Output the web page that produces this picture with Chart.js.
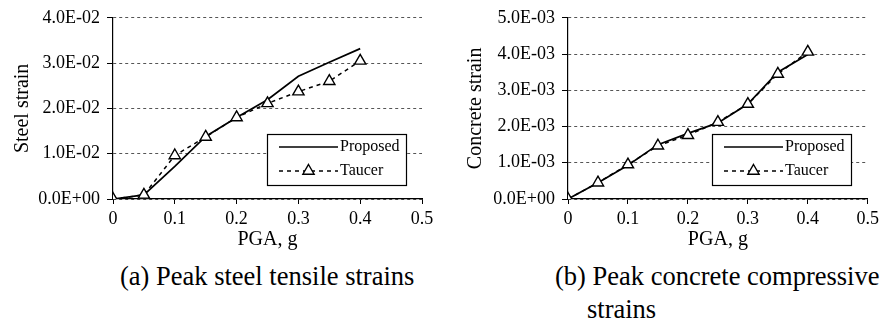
<!DOCTYPE html>
<html>
<head>
<meta charset="utf-8">
<script src="https://cdn.jsdelivr.net/npm/chart.js@4.4.0/dist/chart.umd.min.js"></script>
<style>
  html, body { margin: 0; padding: 0; background: #fff; }
  #fig { position: relative; width: 883px; height: 324px; overflow: hidden;
         font-family: "Liberation Serif", "Times New Roman", serif; color: #000; }
  .panel { position: absolute; top: 0; height: 258px; }
  .cap { position: absolute; font-size: 26.5px; line-height: 32px; white-space: nowrap; }
</style>
</head>
<body>
<div id="fig">
  <div class="panel" style="left:0;width:440px"><canvas id="chart-steel"></canvas></div>
  <div class="panel" style="left:440px;width:443px"><canvas id="chart-concrete"></canvas></div>
  <div class="cap" style="left:120px;top:260px">(a) Peak steel tensile strains</div>
  <div class="cap" style="left:555px;top:260px">(b) Peak concrete compressive</div>
  <div class="cap" style="left:587px;top:293px">strains</div>
</div>
<script>
// ==================== DATOS ====================

const PGA = [0, 0.05, 0.1, 0.15, 0.2, 0.25, 0.3, 0.35, 0.4];

const STEEL_PROPOSED = [0, 0.0009, 0.0072, 0.0138, 0.0180, 0.0219, 0.0271, 0.0302, 0.0332];
const STEEL_TAUCER   = [0, 0.0009, 0.0096, 0.0137, 0.0180, 0.0211, 0.0237, 0.0260, 0.0305];

const CONCRETE_PROPOSED = [0, 0.00045, 0.00093, 0.00150, 0.00181, 0.00210, 0.00262, 0.00350, 0.00399];
const CONCRETE_TAUCER   = [0, 0.00045, 0.00095, 0.00147, 0.00176, 0.00212, 0.00262, 0.00345, 0.00406];

const SERIES_LABELS = ['Proposed', 'Taucer'];
const X_TICKS = ['0', '0.1', '0.2', '0.3', '0.4', '0.5'];
const STEEL_TICKS = ['0.0E+00', '1.0E-02', '2.0E-02', '3.0E-02', '4.0E-02'];
const CONCRETE_TICKS = ['0.0E+00', '1.0E-03', '2.0E-03', '3.0E-03', '4.0E-03', '5.0E-03'];

const FONT = '"Liberation Serif", "Times New Roman", serif';

// ==================== LEYENDA EN RECUADRO ====================

function drawTriangle(ctx, x, y, r) {
  ctx.beginPath();
  ctx.moveTo(x, y - r);
  ctx.lineTo(x + r * 0.866, y + r * 0.5);
  ctx.lineTo(x - r * 0.866, y + r * 0.5);
  ctx.closePath();
  ctx.fillStyle = '#fff';
  ctx.fill();
  ctx.stroke();
}

const legendBox = {
  id: 'legendBox',
  afterDraw(chart, args, opts) {
    const { ctx, chartArea } = chart;
    const w = 139, h = 51;
    const x = Math.round(chartArea.right - opts.right - w);
    const y = Math.round(chartArea.bottom - opts.bottom - h);
    ctx.save();
    ctx.fillStyle = '#fff';
    ctx.fillRect(x, y, w, h);
    ctx.strokeStyle = '#000';
    ctx.lineWidth = 1.2;
    ctx.strokeRect(x + 0.5, y + 0.5, w, h);

    chart.data.datasets.forEach((ds, i) => {
      const ly = y + 13 + i * 24;
      const x1 = x + 12, x2 = x + 71;
      ctx.strokeStyle = '#000';
      ctx.lineWidth = ds.borderWidth;
      ctx.setLineDash(ds.borderDash || []);
      ctx.beginPath();
      ctx.moveTo(x1, ly);
      ctx.lineTo(x2, ly);
      ctx.stroke();
      ctx.setLineDash([]);
      if (ds.pointRadius > 0) {
        ctx.lineWidth = ds.pointBorderWidth;
        drawTriangle(ctx, (x1 + x2) / 2, ly, ds.pointRadius);
      }
      ctx.fillStyle = '#000';
      ctx.font = '16px ' + FONT;
      ctx.textAlign = 'left';
      ctx.textBaseline = 'middle';
      ctx.fillText(ds.label, x + 73, ly);
    });
    ctx.restore();
  }
};

// ==================== GRÁFICOS ====================

function crearGrafico(canvasId, proposed, taucer, yMax, yStep, yTicks, yTitle, cfg) {
  const ctx = document.getElementById(canvasId).getContext('2d');
  return new Chart(ctx, {
    type: 'line',
    data: {
      datasets: [
        {
          label: SERIES_LABELS[0],
          data: PGA.map((x, i) => ({ x: x, y: proposed[i] })),
          borderColor: '#000',
          borderWidth: 1.7,
          pointRadius: 0,
          tension: 0,
          order: 1
        },
        {
          label: SERIES_LABELS[1],
          data: PGA.map((x, i) => ({ x: x, y: taucer[i] })),
          borderColor: '#000',
          borderWidth: 1.5,
          borderDash: [4, 4],
          pointStyle: 'triangle',
          pointRadius: 6.5,
          pointBorderWidth: 1.4,
          pointBackgroundColor: '#fff',
          pointBorderColor: '#000',
          tension: 0,
          order: 0
        }
      ]
    },
    options: {
      responsive: true,
      maintainAspectRatio: false,
      animation: false,
      layout: { padding: cfg.padding },
      plugins: {
        legend: { display: false },
        tooltip: { enabled: false },
        legendBox: { right: cfg.legendRight, bottom: 14 }
      },
      scales: {
        x: {
          type: 'linear',
          min: 0,
          max: 0.5,
          ticks: {
            stepSize: 0.1,
            color: '#000',
            padding: 4,
            maxRotation: 0,
            font: { family: FONT, size: 18 },
            callback: (v, i) => X_TICKS[i]
          },
          grid: { drawOnChartArea: false, tickLength: 5, color: '#000' },
          border: { color: '#000', width: 1.2 },
          title: {
            display: true,
            text: 'PGA, g',
            color: '#000',
            font: { family: FONT, size: 20 },
            padding: { top: 0, bottom: 6 }
          },
          afterFit: (scale) => { scale.height = 59; }
        },
        y: {
          min: 0,
          max: yMax,
          ticks: {
            stepSize: yStep,
            color: '#000',
            padding: 7,
            font: { family: FONT, size: 18 },
            callback: (v, i) => yTicks[i]
          },
          grid: {
            color: '#555',
            lineWidth: 1,
            tickLength: 6,
            tickColor: '#000',
            tickBorderDash: []
          },
          border: { color: '#000', width: 1.2, dash: [3, 3] },
          title: {
            display: true,
            text: yTitle,
            color: '#000',
            font: { family: FONT, size: 20 },
            padding: { top: cfg.titlePad, bottom: 0 }
          },
          afterFit: (scale) => { scale.width = cfg.yWidth; }
        }
      }
    },
    plugins: [legendBox]
  });
}

function inicializar() {
  crearGrafico('chart-steel', STEEL_PROPOSED, STEEL_TAUCER, 0.04, 0.01, STEEL_TICKS, 'Steel strain', {
    padding: { left: 0, top: 15, right: 18, bottom: 0 },
    yWidth: 113,
    titlePad: 11,
    legendRight: 16
  });
  crearGrafico('chart-concrete', CONCRETE_PROPOSED, CONCRETE_TAUCER, 0.005, 0.001, CONCRETE_TICKS, 'Concrete strain', {
    padding: { left: 0, top: 14, right: 15, bottom: 0 },
    yWidth: 128,
    titlePad: 24,
    legendRight: 17
  });
}

inicializar();
</script>
</body>
</html>
